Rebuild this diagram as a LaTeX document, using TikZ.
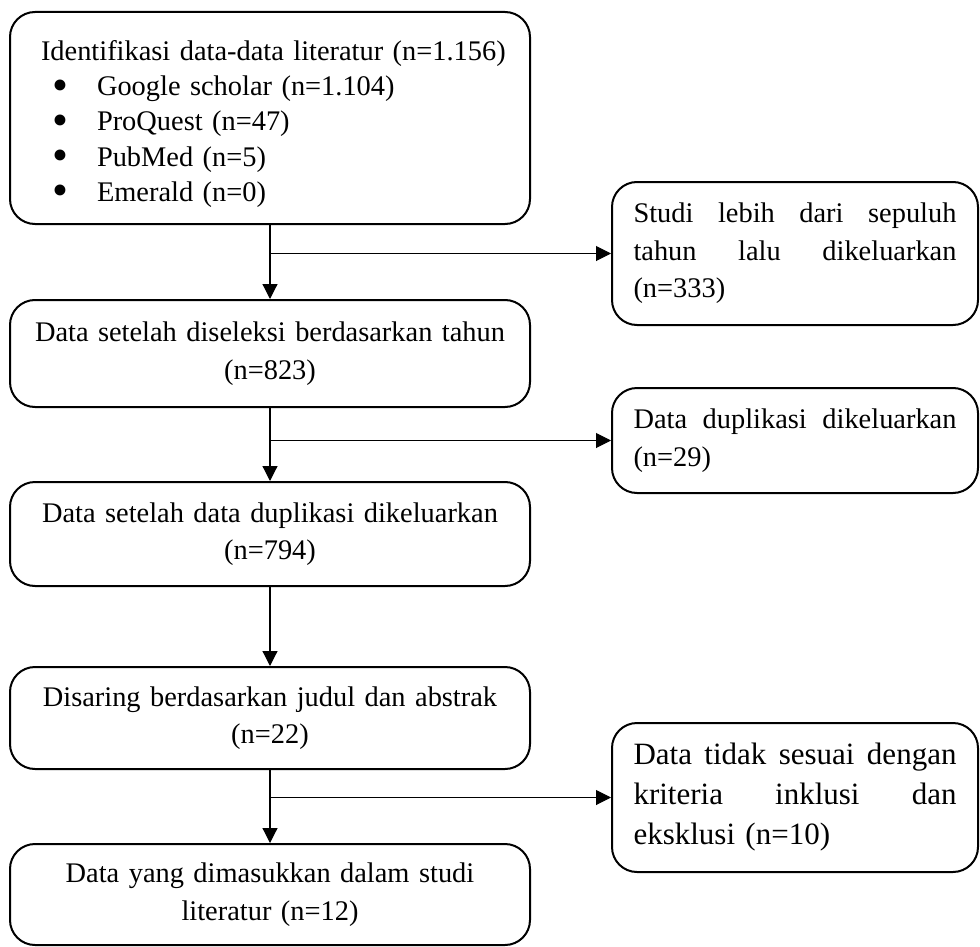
\documentclass[tikz,border=0pt]{standalone}
\usepackage{fontspec}
\setmainfont{Liberation Serif}
\usetikzlibrary{arrows.meta}

% justified line: words split by \hfill
\newcommand{\jline}[1]{\makebox[323pt][l]{#1}}
\newcommand{\bitem}[1]{\hspace*{22pt}\makebox[45pt][l]{\smash{\raisebox{-4.5pt}{\scalebox{1.6}{\textbullet}}}}#1}

\tikzset{
  stagebox/.style={draw, line width=2pt, rounded corners=25pt,
    minimum width=520pt, text width=480pt, inner xsep=20pt, align=center,
    font={\fontsize{28.4}{37.5}\selectfont}},
  excbox/.style={draw, line width=2pt, rounded corners=25pt,
    minimum width=366pt, text width=323pt, inner xsep=21.5pt, align=left,
    font={\fontsize{28.4}{37.5}\selectfont}},
  flow/.style={-{Triangle[length=15pt,width=15pt]}, line width=1.2pt},
  side/.style={-{Triangle[length=15pt,width=15pt]}, line width=1pt}
}

\begin{document}
\begin{tikzpicture}[x=1pt,y=-1pt]
    \useasboundingbox (0,0) rectangle (980,947);

    \node[stagebox, minimum height=212pt, align=left,
      font={\fontsize{28.4}{35.2}\selectfont}] (ident) at (270,118) {
      \rule{0pt}{32pt}\hspace*{11pt}Identifikasi data-data literatur (n=1.156)\\
      \bitem{Google scholar (n=1.104)}\\
      \bitem{ProQuest (n=47)}\\
      \bitem{PubMed (n=5)}\\
      \bitem{Emerald (n=0)}};
    \node[stagebox, minimum height=107pt] (tahun) at (270,353.5)
      {Data setelah diseleksi berdasarkan tahun\\(n=823)};
    \node[stagebox, minimum height=104pt] (dupl) at (270,534)
      {Data setelah data duplikasi dikeluarkan\\(n=794)};
    \node[stagebox, minimum height=102pt] (saring) at (270,718)
      {Disaring berdasarkan judul dan abstrak\\(n=22)};
    \node[stagebox, minimum height=101pt] (masuk) at (270,894.5)
      {Data yang dimasukkan dalam studi\\literatur (n=12)};

    \node[excbox, minimum height=143pt] (lama) at (795,253.5)
      {\jline{Studi\hfill lebih\hfill dari\hfill sepuluh}\\
       \jline{tahun\hfill lalu\hfill dikeluarkan}\\(n=333)};
    \node[excbox, minimum height=105pt] (ganda) at (795,440.5)
      {\jline{Data\hfill duplikasi\hfill dikeluarkan}\\(n=29)};
    \node[excbox, minimum height=149pt, font={\fontsize{31}{40}\selectfont}] (tolak) at (795,797.5)
      {\jline{Data\hfill tidak\hfill sesuai\hfill dengan}\\
       \jline{kriteria\hfill inklusi\hfill dan}\\eksklusi (n=10)};

    \coordinate (c1) at (ident.south |- lama.west);
    \coordinate (c2) at (tahun.south |- ganda.west);
    \coordinate (c3) at (saring.south |- tolak.west);

    \draw[flow] (ident) -- (tahun);
    \draw[flow] (tahun) -- (dupl);
    \draw[flow] (dupl) -- (saring);
    \draw[flow] (saring) -- (masuk);
    \draw[side] (c1) -- (lama.west);
    \draw[side] (c2) -- (ganda.west);
    \draw[side] (c3) -- (tolak.west);
\end{tikzpicture}
\end{document}
